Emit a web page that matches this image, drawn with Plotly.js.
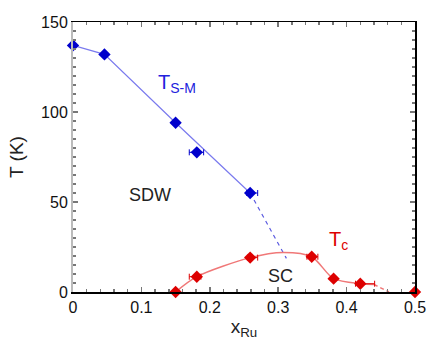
<!DOCTYPE html>
<html>
<head>
<meta charset="utf-8">
<script src="https://cdn.plot.ly/plotly-3.0.1.min.js"></script>
<style>
  html, body { margin: 0; padding: 0; background: #fff; }
  #chart { width: 436px; height: 353px; }
</style>
</head>
<body>
<div id="chart"></div>
<script>
// T_S-M (structural / magnetic transition) points
var smX = [0, 0.046, 0.15, 0.181, 0.259];
var smY = [137, 132, 94, 77.6, 55];
var smErrPlus = [0, 0, 0, 0.010, 0.011];
var smErrMinus = [0, 0, 0, 0.011, 0.005];

// guide line drawn through the T_S-M data
var smLineX = [0, 0.046, 0.15, 0.259];
var smLineY = [137, 132, 94, 55];
var smDashX = [0.259, 0.312];
var smDashY = [55, 18.7];

// Tc points
var tcX = [0.15, 0.181, 0.259, 0.349, 0.381, 0.42, 0.5];
var tcY = [0, 8.5, 19.1, 19.6, 7.4, 4.6, 0];
var tcErrPlus = [0, 0.006, 0.011, 0.009, 0, 0.021, 0];
var tcErrMinus = [0, 0.011, 0.004, 0.007, 0, 0.007, 0];

// guide curve for the SC dome
var tcLineX = [0.15, 0.181, 0.259, 0.307, 0.349, 0.381, 0.42, 0.44];
var tcLineY = [0, 8.5, 19.1, 22, 19.6, 7.4, 4.6, 4.2];
var tcDashX = [0.44, 0.462];
var tcDashY = [4.2, 0];

var xTicks = [0, 0.1, 0.2, 0.3, 0.4, 0.5];
var xTickText = ['0', '0.1', '0.2', '0.3', '0.4', '0.5'];
var yTicks = [0, 50, 100, 150];

var blueMark = '#0000cc';
var blueLine = '#7a7aee';
var redMark = '#dd0000';
var redLine = '#f07878';
var font = 'Liberation Sans, Arial, sans-serif';

var data = [
  {x: smLineX, y: smLineY, mode: 'lines', line: {color: blueLine, width: 1.2}, hoverinfo: 'skip'},
  {x: smDashX, y: smDashY, mode: 'lines', line: {color: '#5a5ae0', width: 1.2, dash: '4px,4px'}, hoverinfo: 'skip'},
  {x: tcLineX, y: tcLineY, mode: 'lines', line: {color: redLine, width: 1.5, shape: 'spline', smoothing: 0.8}, hoverinfo: 'skip'},
  {x: tcDashX, y: tcDashY, mode: 'lines', line: {color: redLine, width: 1.5, dash: '4px,3px'}, hoverinfo: 'skip'},
  {
    x: smX, y: smY, mode: 'markers', cliponaxis: false,
    marker: {symbol: 'diamond', size: 9.5, color: blueMark},
    error_x: {type: 'data', symmetric: false, array: smErrPlus, arrayminus: smErrMinus,
              color: blueMark, thickness: 1, width: 3}
  },
  {
    x: tcX, y: tcY, mode: 'markers', cliponaxis: false,
    marker: {symbol: 'diamond', size: 9.5, color: redMark},
    error_x: {type: 'data', symmetric: false, array: tcErrPlus, arrayminus: tcErrMinus,
              color: redMark, thickness: 1, width: 3}
  },
  // invisible trace just to bring up the right-hand axis
  {x: [0], y: [0], yaxis: 'y2', mode: 'markers', marker: {opacity: 0}, hoverinfo: 'skip'}
];

var layout = {
  width: 436,
  height: 353,
  margin: {l: 73, r: 21, t: 22, b: 61},
  paper_bgcolor: '#fff',
  plot_bgcolor: '#fff',
  showlegend: false,
  font: {family: font, color: '#222'},
  xaxis: {
    range: [0, 0.5],
    tickvals: xTicks,
    ticktext: xTickText,
    ticks: 'inside', ticklen: 5, tickcolor: '#777', tickwidth: 1.5,
    minor: {dtick: 0.02, ticks: 'inside', ticklen: 3, tickcolor: '#777', tickwidth: 1.5},
    showline: true, linecolor: '#000', linewidth: 1.5, mirror: 'ticks',
    showgrid: false, zeroline: false,
    tickfont: {size: 16, color: '#111'},
    title: {text: 'x<sub>Ru</sub>', font: {size: 19, color: '#222'}, standoff: 5}
  },
  yaxis: {
    range: [0, 150],
    tickvals: yTicks,
    ticks: 'inside', ticklen: 5, tickcolor: '#777', tickwidth: 1.5,
    minor: {dtick: 5, ticks: 'inside', ticklen: 3, tickcolor: '#777', tickwidth: 1.5},
    showline: true, linecolor: '#bbb', linewidth: 2,
    showgrid: false, zeroline: false,
    tickfont: {size: 16, color: '#111'},
    title: {text: 'T (K)', font: {size: 19, color: '#222'}, standoff: 12}
  },
  yaxis2: {
    range: [0, 150], overlaying: 'y', side: 'right',
    tickvals: yTicks, showticklabels: false,
    ticks: 'inside', ticklen: 5, tickcolor: '#777', tickwidth: 1.5,
    minor: {dtick: 5, ticks: 'inside', ticklen: 3, tickcolor: '#777', tickwidth: 1.5},
    showline: true, linecolor: '#000', linewidth: 1.5,
    showgrid: false, zeroline: false
  },
  annotations: [
    {x: 0.122, y: 116, xref: 'x', yref: 'y', xanchor: 'left', yanchor: 'middle', showarrow: false,
     text: 'T<sub>S-M</sub>', font: {size: 20, color: '#2222dd'}},
    {x: 0.113, y: 54, xref: 'x', yref: 'y', showarrow: false,
     text: 'SDW', font: {size: 18, color: '#222'}},
    {x: 0.303, y: 9, xref: 'x', yref: 'y', showarrow: false,
     text: 'SC', font: {size: 18, color: '#222'}},
    {x: 0.372, y: 28.5, xref: 'x', yref: 'y', xanchor: 'left', yanchor: 'middle', showarrow: false,
     text: 'T<sub>c</sub>', font: {size: 20, color: '#dd0000'}}
  ]
};

Plotly.newPlot('chart', data, layout, {staticPlot: true});
</script>
</body>
</html>
